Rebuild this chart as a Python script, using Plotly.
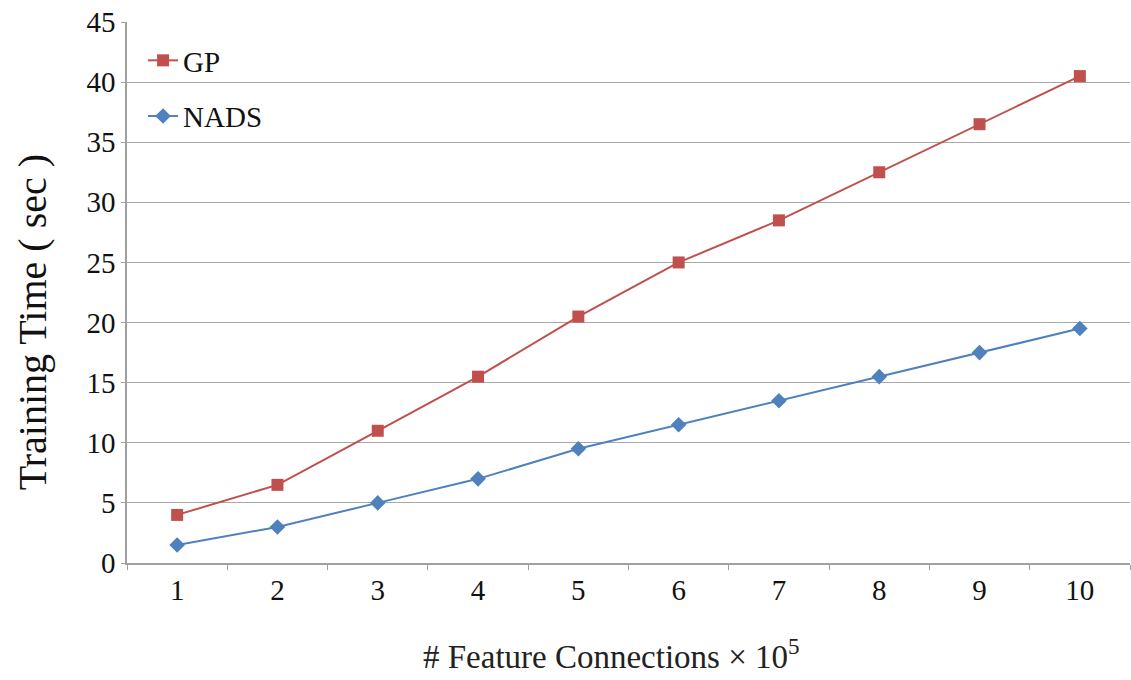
import plotly.graph_objects as go

categories = ["1", "2", "3", "4", "5", "6", "7", "8", "9", "10"]
gp_values = [4, 6.5, 11, 15.5, 20.5, 25, 28.5, 32.5, 36.5, 40.5]
nads_values = [1.5, 3, 5, 7, 9.5, 11.5, 13.5, 15.5, 17.5, 19.5]
y_ticks = [0, 5, 10, 15, 20, 25, 30, 35, 40, 45]

FONT = "Liberation Serif"

fig = go.Figure()
fig.add_trace(go.Scatter(
    x=categories, y=gp_values, name="GP", mode="lines+markers",
    line=dict(color="#C0504D", width=2),
    marker=dict(symbol="square", size=12, color="#C0504D"),
    legendgroup="gp",
))
fig.add_trace(go.Scatter(
    x=categories, y=nads_values, name="NADS", mode="lines+markers",
    line=dict(color="#4F81BD", width=2),
    marker=dict(symbol="diamond", size=12, color="#4F81BD"),
    legendgroup="nads",
))

# white backdrop behind the legend (hides the gridlines there, as in the original)
fig.add_shape(type="rect", xref="paper", yref="paper",
              x0=0, x1=0.1675, y0=0.76, y1=0.985,
              fillcolor="white", line=dict(width=0), layer="between")

fig.update_layout(
    width=1131, height=680,
    margin=dict(l=127, r=1, t=22, b=117),
    paper_bgcolor="white", plot_bgcolor="white",
    font=dict(family=FONT, color="#111111"),
    showlegend=True,
    legend=dict(
        x=0.016, y=0.976, xanchor="left", yanchor="top",
        bgcolor="rgba(0,0,0,0)", font=dict(family=FONT, size=29, color="#111111"),
        tracegroupgap=15, itemwidth=30,
    ),
    xaxis=dict(
        type="category", range=[-0.5, 9.5], tickson="boundaries",
        ticks="outside", ticklen=5,
        tickcolor="#A0A0A0", showline=True, linecolor="#A0A0A0", linewidth=1.5,
        showgrid=False, tickfont=dict(family=FONT, size=29, color="#111111"),
        zeroline=False, automargin=False,
    ),
    yaxis=dict(
        range=[0, 45], tickvals=y_ticks, ticks="outside", ticklen=4,
        tickcolor="#A0A0A0", showline=True, linecolor="#A0A0A0", linewidth=1.5,
        showgrid=True, gridcolor="#A8A8A8", gridwidth=1.3, zeroline=False,
        tickfont=dict(family=FONT, size=29, color="#111111"),
        automargin=False,
    ),
    annotations=[
        dict(text="Training Time ( sec )", textangle=-90, showarrow=False,
             xref="paper", yref="paper", x=-0.0947, y=0.445,
             xanchor="center", yanchor="middle",
             font=dict(family=FONT, size=40, color="#111111")),
        dict(text="# Feature Connections × 10<sup>5</sup>", showarrow=False,
             xref="paper", yref="paper", x=0.4835, y=-0.168,
             xanchor="center", yanchor="middle",
             font=dict(family=FONT, size=33, color="#222222")),
    ],
)

fig.write_html(
    "out.html",
    config={"displayModeBar": False},
    post_script="document.body.style.margin='0';document.body.style.overflow='hidden';",
)
